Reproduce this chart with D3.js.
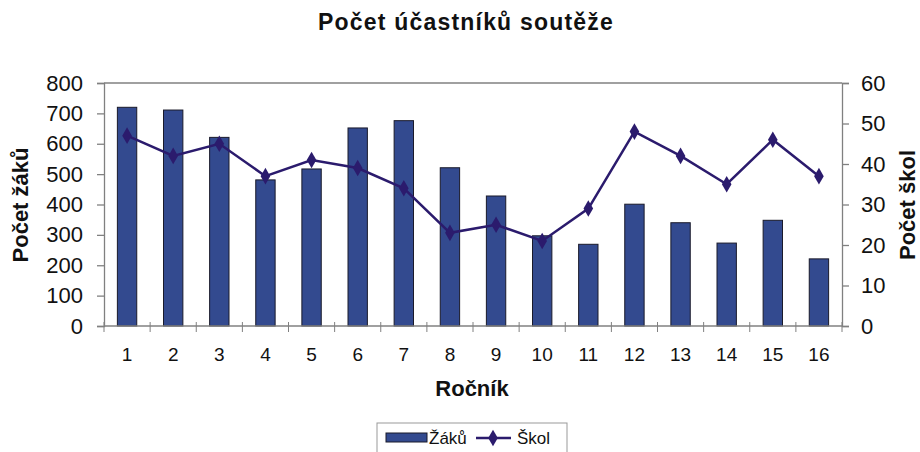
<!DOCTYPE html>
<html>
<head>
<meta charset="utf-8">
<script src="https://cdn.jsdelivr.net/npm/d3@7"></script>
<style>
  body { margin: 0; background: #fff; }
  svg { font-family: "Liberation Sans", Arial, sans-serif; }
</style>
</head>
<body>
<div id="chart"></div>
<script>
const categories = ["1","2","3","4","5","6","7","8","9","10","11","12","13","14","15","16"];
const zaku = [720, 711, 621, 481, 517, 652, 676, 521, 428, 297, 269, 401, 340, 273, 348, 221];
const skol = [47, 42, 45, 37, 41, 39, 34, 23, 25, 21, 29, 48, 42, 35, 46, 37];
const leftTicks = [0, 100, 200, 300, 400, 500, 600, 700, 800];
const rightTicks = [0, 10, 20, 30, 40, 50, 60];

const width = 920, height = 452;
const margin = { top: 83, right: 78, bottom: 126, left: 104 };
const barColor = "#334a8f";
const lineColor = "#2b1b6d";
const axisColor = "#808080";

const svg = d3.select("#chart").append("svg")
  .attr("width", width).attr("height", height);

const x = d3.scaleBand()
  .domain(categories)
  .range([margin.left, width - margin.right])
  .paddingInner(0.58).paddingOuter(0.29);

const yL = d3.scaleLinear().domain([0, 800]).range([height - margin.bottom, margin.top]);
const yR = d3.scaleLinear().domain([0, 60]).range([height - margin.bottom, margin.top]);

const x0 = margin.left, x1 = width - margin.right;
const y0 = height - margin.bottom, y1 = margin.top;

// plot border (top)
svg.append("line").attr("x1", x0).attr("x2", x1).attr("y1", y1).attr("y2", y1)
  .attr("stroke", axisColor).attr("stroke-width", 1.3);

// bars
svg.selectAll("rect.bar").data(zaku).enter().append("rect")
  .attr("class", "bar")
  .attr("x", (d, i) => x(categories[i]))
  .attr("y", d => yL(d))
  .attr("width", x.bandwidth())
  .attr("height", d => yL(0) - yL(d))
  .attr("fill", barColor)
  .attr("stroke", "#1a1a2a").attr("stroke-width", 1);

// left axis
const gL = svg.append("g").attr("transform", `translate(${x0},0)`)
  .call(d3.axisLeft(yL).tickValues(leftTicks).tickSize(7).tickPadding(14));
// right axis
const gR = svg.append("g").attr("transform", `translate(${x1},0)`)
  .call(d3.axisRight(yR).tickValues(rightTicks).tickSize(7).tickPadding(12));
[gL, gR].forEach(g => {
  g.select(".domain").attr("stroke", axisColor).attr("stroke-width", 1.3);
  g.selectAll(".tick line").attr("stroke", axisColor).attr("stroke-width", 1.3);
  g.selectAll("text").attr("font-size", 22).attr("fill", "#111")
    .attr("font-family", "Liberation Sans, Arial, sans-serif");
});

// bottom axis
const step = x.step();
const gB = svg.append("g").attr("transform", `translate(0,${y0})`);
gB.append("line").attr("x1", x0).attr("x2", x1)
  .attr("stroke", axisColor).attr("stroke-width", 1.3);
gB.selectAll("line.tk").data(d3.range(categories.length + 1)).enter().append("line")
  .attr("class", "tk")
  .attr("x1", i => x0 + i * step).attr("x2", i => x0 + i * step)
  .attr("y1", -4).attr("y2", 6)
  .attr("stroke", axisColor).attr("stroke-width", 1);
gB.selectAll("text").data(categories).enter().append("text")
  .attr("x", d => x(d) + x.bandwidth() / 2)
  .attr("y", 35)
  .attr("text-anchor", "middle")
  .attr("font-size", 19).attr("fill", "#111")
  .text(d => d);

// line
const line = d3.line()
  .x((d, i) => x(categories[i]) + x.bandwidth() / 2)
  .y(d => yR(d));
svg.append("path").datum(skol)
  .attr("d", line).attr("fill", "none")
  .attr("stroke", lineColor).attr("stroke-width", 2.5);
const diamond = d3.symbol().type(d3.symbolDiamond).size(80);
svg.selectAll("path.pt").data(skol).enter().append("path")
  .attr("class", "pt")
  .attr("d", diamond)
  .attr("transform", (d, i) => `translate(${x(categories[i]) + x.bandwidth() / 2},${yR(d)})`)
  .attr("fill", lineColor);

// titles
svg.append("text").attr("x", 466).attr("y", 30)
  .attr("text-anchor", "middle").attr("font-size", 23).attr("font-weight", "bold")
  .attr("letter-spacing", 1.2)
  .attr("fill", "#111").text("Počet účastníků soutěže");
svg.append("text").attr("x", 472).attr("y", 396)
  .attr("text-anchor", "middle").attr("font-size", 22).attr("font-weight", "bold")
  .attr("fill", "#111").text("Ročník");
svg.append("text").attr("transform", "translate(28,205) rotate(-90)")
  .attr("text-anchor", "middle").attr("font-size", 22).attr("font-weight", "bold")
  .attr("fill", "#111").text("Počet žáků");
svg.append("text").attr("transform", "translate(915,205) rotate(-90)")
  .attr("text-anchor", "middle").attr("font-size", 22).attr("font-weight", "bold")
  .attr("fill", "#111").text("Počet škol");

// legend
const lg = svg.append("g");
lg.append("rect").attr("x", 377).attr("y", 423).attr("width", 190).attr("height", 40)
  .attr("fill", "#fff").attr("stroke", "#999").attr("stroke-width", 1);
lg.append("rect").attr("x", 386).attr("y", 433).attr("width", 41).attr("height", 9)
  .attr("fill", barColor).attr("stroke", "#1a1a2a").attr("stroke-width", 1);
lg.append("text").attr("x", 429).attr("y", 444).attr("font-size", 17)
  .attr("fill", "#111").text("Žáků");
lg.append("line").attr("x1", 476).attr("x2", 511).attr("y1", 438).attr("y2", 438)
  .attr("stroke", lineColor).attr("stroke-width", 2.5);
lg.append("path").attr("d", diamond).attr("transform", "translate(493,438)")
  .attr("fill", lineColor);
lg.append("text").attr("x", 517).attr("y", 444).attr("font-size", 17)
  .attr("fill", "#111").text("Škol");
</script>
</body>
</html>
